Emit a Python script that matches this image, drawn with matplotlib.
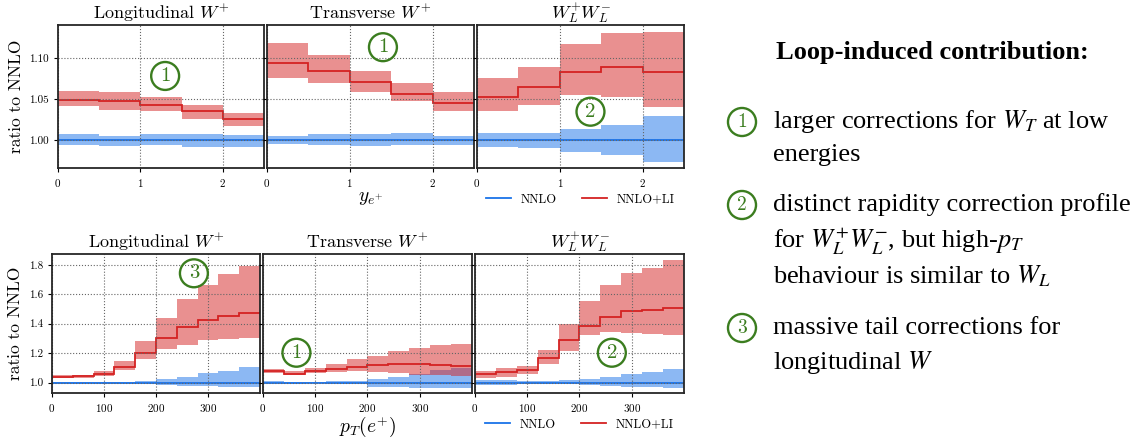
import numpy as np
import matplotlib
matplotlib.use("Agg")
import matplotlib.pyplot as plt

plt.rcParams['font.family'] = 'cmr10'
plt.rcParams['mathtext.fontset'] = 'cm'
plt.rcParams['axes.formatter.use_mathtext'] = True

# ---- rapidity distributions (bins of y_e+) ----
y_edges = [0, 0.5, 1.0, 1.5, 2.0, 2.5]

y_long_li = [1.049, 1.047, 1.043, 1.035, 1.026]
y_long_li_up = [1.060, 1.058, 1.053, 1.043, 1.033]
y_long_li_dn = [1.041, 1.036, 1.035, 1.026, 1.017]
y_long_nnlo_up = [1.0069, 1.0053, 1.0077, 1.0069, 1.0061]
y_long_nnlo_dn = [0.9939, 0.9927, 0.9935, 0.9919, 0.9911]

y_trans_li = [1.0943, 1.0845, 1.0705, 1.0566, 1.045]
y_trans_li_up = [1.118, 1.1037, 1.084, 1.069, 1.058]
y_trans_li_dn = [1.075, 1.069, 1.059, 1.047, 1.035]
y_trans_nnlo_up = [1.0053, 1.0074, 1.0074, 1.0081, 1.0053]
y_trans_nnlo_dn = [0.9947, 0.9940, 0.9925, 0.9935, 0.9943]

y_ll_li = [1.053, 1.0645, 1.0826, 1.0885, 1.0826]
y_ll_li_up = [1.0754, 1.0893, 1.117, 1.130, 1.132]
y_ll_li_dn = [1.0352, 1.043, 1.0545, 1.0525, 1.0398]
y_ll_nnlo_up = [1.0086, 1.0086, 1.0139, 1.0184, 1.029]
y_ll_nnlo_dn = [0.991, 0.990, 0.9857, 0.982, 0.973]

# ---- transverse momentum distributions (bins of pT(e+)) ----
pt_edges = [0, 40, 80, 120, 160, 200, 240, 280, 320, 360, 400]

pt_long_li = [1.038, 1.045, 1.061, 1.108, 1.203, 1.303, 1.380, 1.423, 1.454, 1.472]
pt_long_li_up = [1.050, 1.052, 1.079, 1.147, 1.282, 1.438, 1.569, 1.660, 1.734, 1.793]
pt_long_li_dn = [1.030, 1.034, 1.045, 1.088, 1.158, 1.226, 1.253, 1.287, 1.296, 1.305]
pt_long_nnlo_up = [1.006, 1.006, 1.006, 1.007, 1.012, 1.025, 1.040, 1.063, 1.080, 1.108]
pt_long_nnlo_dn = [0.994, 0.994, 0.994, 0.993, 0.988, 0.986, 0.980, 0.980, 0.973, 0.968]

pt_trans_li = [1.079, 1.061, 1.081, 1.095, 1.108, 1.118, 1.124, 1.127, 1.120, 1.113]
pt_trans_li_up = [1.093, 1.081, 1.097, 1.129, 1.163, 1.183, 1.215, 1.237, 1.255, 1.262]
pt_trans_li_dn = [1.063, 1.050, 1.063, 1.075, 1.081, 1.072, 1.063, 1.054, 1.050, 1.045]
pt_trans_nnlo_up = [1.009, 1.007, 1.007, 1.009, 1.013, 1.027, 1.040, 1.059, 1.088, 1.100]
pt_trans_nnlo_dn = [0.989, 0.991, 0.995, 0.993, 0.991, 0.973, 0.968, 0.966, 0.966, 0.962]

pt_ll_li = [1.056, 1.070, 1.088, 1.165, 1.287, 1.382, 1.447, 1.488, 1.495, 1.506]
pt_ll_li_up = [1.079, 1.099, 1.115, 1.221, 1.398, 1.551, 1.664, 1.744, 1.777, 1.829]
pt_ll_li_dn = [1.034, 1.041, 1.059, 1.129, 1.217, 1.321, 1.341, 1.334, 1.330, 1.325]
pt_ll_nnlo_up = [1.018, 1.018, 1.011, 1.009, 1.016, 1.027, 1.040, 1.059, 1.075, 1.093]
pt_ll_nnlo_dn = [0.986, 0.986, 0.993, 0.991, 0.989, 0.982, 0.980, 0.973, 0.968, 0.966]

titles = [r'Longitudinal $W^{+}$', r'Transverse $W^{+}$', r'$W_L^{+}W_L^{-}$']

RED = '#d42222'
BLUE = '#1a73e8'
GREEN = '#3b7d1f'


def circled(ax, x, y, n, transform, fs=15, pad=0.24):
    ax.text(x, y, str(n), transform=transform, ha='center', va='center',
            fontsize=fs, color=GREEN, family='cmr10',
            bbox=dict(boxstyle='circle,pad=%g' % pad, fc='none', ec=GREEN, lw=1.7))


def panel(ax, edges, li, li_up, li_dn, nn_up, nn_dn):
    ones = np.ones(len(li))
    ax.stairs(nn_up, edges, baseline=nn_dn, fill=True, color=BLUE, alpha=0.5, lw=0)
    ax.stairs(li_up, edges, baseline=li_dn, fill=True, color=RED, alpha=0.5, lw=0)
    ax.stairs(ones, edges, baseline=None, color=BLUE, lw=1.3, label='NNLO')
    ax.stairs(li, edges, baseline=None, color=RED, lw=1.3, label='NNLO+LI')
    ax.set_xlim(edges[0], edges[-1])
    ax.grid(True, ls=':', color='0.4', lw=0.8)
    ax.tick_params(labelsize=8, length=3, width=0.8)
    for s in ax.spines.values():
        s.set_linewidth(1.3)
        s.set_color('0.15')


fig = plt.figure(figsize=(11.42, 4.38), dpi=100)

top_pos = [[0.0508, 0.6164, 0.1804, 0.3265],
           [0.2338, 0.6164, 0.1813, 0.3265],
           [0.4177, 0.6164, 0.1813, 0.3265]]
bot_pos = [[0.0455, 0.1021, 0.1821, 0.3187],
           [0.2303, 0.1021, 0.1830, 0.3187],
           [0.4159, 0.1021, 0.1830, 0.3187]]

top_data = [(y_long_li, y_long_li_up, y_long_li_dn, y_long_nnlo_up, y_long_nnlo_dn),
            (y_trans_li, y_trans_li_up, y_trans_li_dn, y_trans_nnlo_up, y_trans_nnlo_dn),
            (y_ll_li, y_ll_li_up, y_ll_li_dn, y_ll_nnlo_up, y_ll_nnlo_dn)]
bot_data = [(pt_long_li, pt_long_li_up, pt_long_li_dn, pt_long_nnlo_up, pt_long_nnlo_dn),
            (pt_trans_li, pt_trans_li_up, pt_trans_li_dn, pt_trans_nnlo_up, pt_trans_nnlo_dn),
            (pt_ll_li, pt_ll_li_up, pt_ll_li_dn, pt_ll_nnlo_up, pt_ll_nnlo_dn)]

top_axes = []
for i in range(3):
    ax = fig.add_axes(top_pos[i])
    panel(ax, y_edges, *top_data[i])
    ax.set_ylim(0.966, 1.140)
    ax.set_yticks([1.00, 1.05, 1.10])
    ax.set_yticklabels(['1.00', '1.05', '1.10'])
    ax.set_xticks([0, 1, 2])
    ax.set_title(titles[i], fontsize=13, pad=4)
    if i > 0:
        ax.tick_params(labelleft=False)
    top_axes.append(ax)
top_axes[0].set_ylabel('ratio to NNLO', fontsize=12.5)
top_axes[1].set_xlabel(r'$y_{e^{+}}$', fontsize=14, labelpad=0)
top_axes[2].legend(loc='upper center', bbox_to_anchor=(0.5, -0.10), ncol=2,
                   frameon=False, fontsize=9, handlelength=2.0, columnspacing=2.0)

bot_axes = []
for i in range(3):
    ax = fig.add_axes(bot_pos[i])
    panel(ax, pt_edges, *bot_data[i])
    ax.set_ylim(0.928, 1.875)
    ax.set_yticks([1.0, 1.2, 1.4, 1.6, 1.8])
    ax.set_yticklabels(['1.0', '1.2', '1.4', '1.6', '1.8'])
    ax.set_xticks([0, 100, 200, 300])
    ax.set_title(titles[i], fontsize=13, pad=4)
    if i > 0:
        ax.tick_params(labelleft=False)
    bot_axes.append(ax)
bot_axes[0].set_ylabel('ratio to NNLO', fontsize=12.5)
bot_axes[1].set_xlabel(r'$p_T(e^{+})$', fontsize=14, labelpad=0)
bot_axes[2].legend(loc='upper center', bbox_to_anchor=(0.5, -0.10), ncol=2,
                   frameon=False, fontsize=9, handlelength=2.0, columnspacing=2.0)

# circled markers inside the panels
circled(top_axes[0], 1.3, 1.078, 1, top_axes[0].transData)
circled(top_axes[1], 1.4, 1.113, 1, top_axes[1].transData)
circled(top_axes[2], 1.37, 1.0345, 2, top_axes[2].transData)
circled(bot_axes[0], 273, 1.742, 3, bot_axes[0].transData)
circled(bot_axes[1], 64, 1.203, 1, bot_axes[1].transData)
circled(bot_axes[2], 262, 1.203, 2, bot_axes[2].transData)

# right hand side text
H = 438.0
W = 1142.0
tfs = 19
fig.text(932 / W, 1 - 52 / H, 'Loop-induced contribution:', ha='center', va='center',
         family='Liberation Serif', weight='bold', fontsize=tfs)

items = [
    (1, [(122, r'larger corrections for $W_T$ at low'), (155, 'energies')]),
    (2, [(205, 'distinct rapidity correction profile'),
         (241, r'for $W_L^{+}W_L^{-}$, but high-$p_T$'),
         (276, r'behaviour is similar to $W_L$')]),
    (3, [(328, 'massive tail corrections for'), (362, r'longitudinal $W$')]),
]
for n, lines in items:
    circled(fig, 742 / W, 1 - lines[0][0] / H, n, fig.transFigure, fs=14, pad=0.26)
    for ypx, txt in lines:
        fig.text(773 / W, 1 - ypx / H, txt, ha='left', va='center',
                 family='Liberation Serif', fontsize=tfs, math_fontfamily='stix')

fig.savefig('out.png', dpi=100)
